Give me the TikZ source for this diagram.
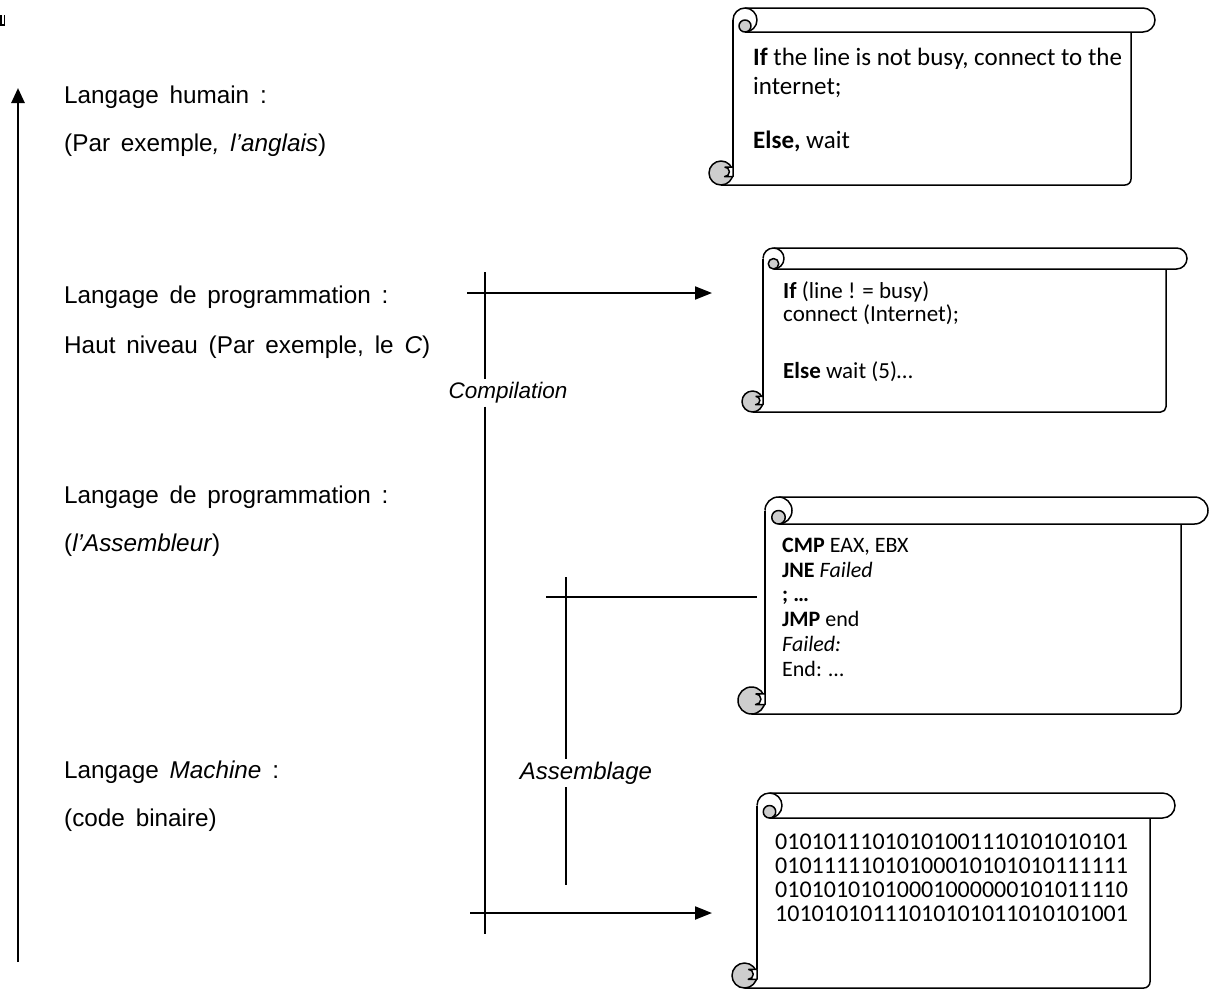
\documentclass[tikz,border=0pt]{standalone}
\usepackage{fontspec}
\setmainfont{Carlito}
\newfontfamily\labfont[WordSpace=1.6]{Liberation Sans}
\usetikzlibrary{arrows.meta}
\definecolor{curlgrey}{RGB}{205,205,205}
\tikzset{
  scrollline/.style={draw=black, line width=1.5pt, line join=round},
  lab/.style={anchor=base west, inner sep=0pt, font=\labfont\fontsize{24.3}{28}\selectfont},
  itlab/.style={inner sep=3pt, font=\labfont\itshape\fontsize{22.5}{26}\selectfont},
  thinln/.style={line width=1.4pt},
  arr/.style={line width=2pt, -{Triangle[length=17pt,width=13pt]}},
  bigarr/.style={line width=2.6pt, -{Triangle[length=15pt,width=13pt]}},
  scrtext/.style={anchor=north west, inner sep=0pt, align=left},
}
% scroll: #1 body left x, #2 top y, #3 tube right end x, #4 bottom y, #5 tube height
\newcommand\scrollshape[5]{%
  \pgfmathsetmacro\sxl{#1}\pgfmathsetmacro\sT{#2}\pgfmathsetmacro\sR{#3}%
  \pgfmathsetmacro\sB{#4}\pgfmathsetmacro\sc{#5}\pgfmathsetmacro\sh{\sc/2}%
  \pgfmathsetmacro\sxr{\sR-\sc}\pgfmathsetmacro\scx{\sxl-\sh}\pgfmathsetmacro\scy{\sB-\sh}%
  \draw[scrollline] (\sxl,\sT+\sh) -- (\sxl,\scy-0.5*\sh);
  \draw[scrollline] (\scx,\sB) -- (\sxr-\sc/4,\sB) arc[start angle=90,end angle=0,radius=\sc/4] -- (\sxr,\sT+\sc);
  \draw[scrollline] (\sxl+\sh,\sT) -- (\sR-\sh,\sT) arc[start angle=-90,end angle=90,radius=\sh] -- (\sxl+\sh,\sT+\sc);
  \draw[scrollline] (\sxl,\sT+\sh) arc[start angle=180,end angle=450,radius=\sh];
  \filldraw[scrollline, fill=curlgrey] (\sxl+\sh,\sT+1.5*\sh) circle[radius=\sh/2];
  \filldraw[scrollline, fill=curlgrey] (\scx,\scy) circle[radius=\sh];
  \filldraw[scrollline, fill=white] (\scx+0.3*\sh,\scy-0.5*\sh) -- (\sxl,\scy-0.5*\sh) -- (\sxl,\scy+0.3*\sh) -- (\scx+0.3*\sh,\scy+0.3*\sh) arc[start angle=90,end angle=-90,radius=0.4*\sh];
}
\begin{document}
\begin{tikzpicture}[x=1pt,y=-1pt]
\useasboundingbox (0,0) rectangle (1220,989);
% cropped mark at top left
\fill (0,15) rectangle (1.6,26);
\fill (0,23.5) rectangle (5,26);
\fill (3.6,15) rectangle (5.4,26);

% big vertical arrow
\coordinate (vbot) at (18,962);
\coordinate (vtop) at (18,88);
\draw[bigarr] (vbot) -- (vtop);

% left labels
\node[lab] (l1) at (64,103.4) {Langage humain :};
\node[lab] (l2) at (64,151.4) {(Par exemple\textit{, l’anglais})};
\node[lab] (l3) at (64,303.4) {Langage de programmation :};
\node[lab] (l4) at (64,353.4) {Haut niveau (Par exemple, le \textit{C})};
\node[lab] (l5) at (64,503.4) {Langage de programmation :};
\node[lab] (l6) at (64,551.4) {(\textit{l’Assembleur})};
\node[lab] (l7) at (64,778.4) {Langage \textit{Machine} :};
\node[lab] (l8) at (64,826.4) {(code binaire)};

% scrolls
\scrollshape{733}{8}{1155}{185}{24}
\node[scrtext, font=\fontsize{25}{29}\selectfont] (s1) at (753,47.5) {\textbf{If} the line is not busy, connect to the\\internet;\\[25pt]\textbf{Else,} wait};

\scrollshape{763}{248}{1187}{412}{21}
\node[scrtext, font=\fontsize{23}{23}\selectfont] (s2) at (783,281.3) {\textbf{If} (line ! = busy)\\connect (Internet);\\[34pt]\textbf{Else} wait (5)…};

\scrollshape{765}{497}{1208}{714}{27}
\node[scrtext, font=\fontsize{22}{24.8}\selectfont] (s3) at (782,537.6) {\textbf{CMP} EAX, EBX\\\textbf{JNE} \textit{Failed}\\\textbf{; …}\\\textbf{JMP} end\\\textit{Failed:}\\End: …};

\scrollshape{757}{793}{1175}{988}{25}
\node[scrtext, font=\fontsize{24}{24}\selectfont] (s4) at (775,834) {01010111010101001110101010101\\01011111010100010101010111111\\01010101010001000000101011110\\10101010111010101011010101001};

% compilation
\node[itlab] (comp) at (508,393) {Compilation};
\coordinate (ctop) at (485,272);
\coordinate (cbot) at (485,934);
\draw[thinln] (ctop) -- (ctop |- comp.north);
\draw[thinln] (ctop |- comp.south) -- (cbot);
\coordinate (a1s) at (467,293);
\coordinate (a1e) at (712,293);
\draw[arr] (a1s) -- (a1e);
\coordinate (a2s) at (470,913);
\coordinate (a2e) at (712,913);
\draw[arr] (a2s) -- (a2e);

% assemblage
\node[itlab, font=\labfont\itshape\fontsize{24}{28}\selectfont] (asm) at (586,773) {Assemblage};
\coordinate (atop) at (566,577);
\coordinate (abot) at (566,885);
\draw[thinln] (atop) -- (atop |- asm.north);
\draw[thinln] (atop |- asm.south) -- (abot);
\coordinate (hs) at (546,597);
\coordinate (he) at (757,597);
\draw[thinln] (hs) -- (he);
\end{tikzpicture}
\end{document}
